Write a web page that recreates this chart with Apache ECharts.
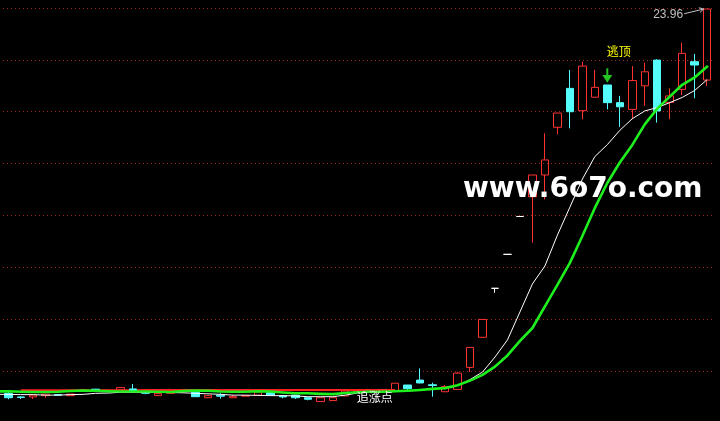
<!DOCTYPE html>
<html>
<head>
<meta charset="utf-8">
<script src="https://cdn.jsdelivr.net/npm/echarts@6/dist/echarts.min.js"></script>
<style>
html,body{margin:0;padding:0;background:#000;}
#c{width:720px;height:421px;}
</style>
</head>
<body>
<div id="c"></div>
<script>
// ---- data ----
const categories = ['1','2','3','4','5','6','7','8','9','10','11','12','13','14','15','16','17','18','19','20',
  '21','22','23','24','25','26','27','28','29','30','31','32','33','34','35','36','37','38','39','40',
  '41','42','43','44','45','46','47','48','49','50','51','52','53','54','55','56','57','58'];

const openP = [9.27,9.14,9.00,9.00,9.05,9.09,9.05,9.23,9.30,9.24,9.27,9.31,9.18,9.05,9.14,9.20,9.18,8.97,9.07,8.97,
  9.03,9.07,9.18,9.05,9.07,8.97,8.82,8.86,9.04,9.17,9.22,9.25,9.23,9.46,9.65,9.47,9.20,9.29,10.14,11.30,
  13.19,14.50,15.96,16.72,17.56,19.40,20.90,20.04,20.56,21.03,20.35,20.09,21.00,21.99,20.36,20.86,21.93,21.22];
const closeP = [9.19,8.97,8.98,9.07,9.11,9.07,9.11,9.29,9.22,9.26,9.36,9.23,9.14,9.13,9.18,9.22,9.01,9.05,9.03,9.01,
  9.05,9.19,9.07,9.00,8.97,8.91,8.97,8.97,9.23,9.21,9.19,9.29,9.53,9.32,9.54,9.44,9.40,9.92,10.91,11.99,
  13.19,14.50,15.96,17.56,18.14,19.95,20.00,21.76,20.94,20.35,20.19,21.20,21.54,20.03,20.61,22.25,21.80,23.96];
const lowP = [9.15,8.91,8.92,8.92,8.97,9.06,9.05,9.22,9.21,9.23,9.26,9.21,9.10,9.04,9.14,9.19,9.00,8.97,8.93,8.97,
  9.03,9.07,9.07,8.95,8.92,8.87,8.82,8.86,9.03,9.16,9.18,9.24,9.22,9.25,9.53,9.01,9.20,9.29,9.97,11.30,
  13.02,14.50,15.96,14.95,16.62,19.13,19.36,19.71,20.55,20.09,19.42,19.71,20.23,19.58,19.71,20.64,20.52,20.99];
const highP = [9.30,9.27,9.02,9.07,9.12,9.10,9.11,9.30,9.31,9.27,9.36,9.50,9.18,9.19,9.18,9.23,9.18,9.05,9.14,9.07,
  9.05,9.19,9.18,9.05,9.07,8.97,8.97,8.97,9.24,9.22,9.23,9.30,9.53,9.46,10.10,9.55,9.46,9.97,10.91,11.99,
  13.19,14.50,15.96,17.56,19.17,19.95,21.61,21.93,21.61,21.03,20.61,21.76,21.89,22.02,20.90,22.66,22.23,23.96];

const lineWhite = [9.10,9.10,9.09,9.09,9.07,9.07,9.09,9.10,9.14,9.15,9.18,9.18,9.18,9.18,9.17,9.16,9.14,9.12,9.10,9.07,
  9.07,9.06,9.05,9.05,9.04,9.01,9.01,9.01,9.07,9.15,9.19,9.20,9.21,9.23,9.27,9.31,9.34,9.44,9.67,9.96,
  10.54,11.20,12.28,13.36,14.05,15.24,16.32,17.40,18.27,18.73,19.28,19.73,20.03,20.16,20.35,20.55,20.82,21.24];
const lineGreen = [9.21,9.22,9.20,9.19,9.19,9.20,9.23,9.25,9.24,9.22,9.21,9.21,9.21,9.20,9.19,9.23,9.25,9.24,9.21,9.20,
  9.20,9.22,9.21,9.17,9.14,9.14,9.12,9.11,9.15,9.18,9.20,9.20,9.22,9.24,9.27,9.31,9.34,9.45,9.63,9.85,
  10.17,10.60,11.16,11.66,12.49,13.32,14.17,15.21,16.29,17.25,18.04,18.72,19.51,20.12,20.58,21.04,21.32,21.74];
const lineRed = [null,null,9.26,9.26,9.26,9.26,9.26,9.26,9.26,9.26,9.26,9.26,9.27,9.27,9.27,9.27,9.27,9.27,9.27,9.27,
  9.27,9.27,9.27,9.27,9.27,9.27,9.27,9.27,9.27,9.27,9.27,9.27,9.27,null,null,null,null,null,null,null,
  null,null,null,null,null,null,null,null,null,null,null,null,null,null,null,null,null,null];

const yMin = 8, yMax = 24, yStep = 2;
const lastPriceText = '23.96';
const lastIndex = 57;
const topSignalIndex = 49;
const topSignalText = '逃顶';
const chaseIndex = 29;
const chaseLevel = 8.99;
const chaseText = '追涨点';
const watermark = 'www.6o7o.com';

// ---- chart ----
const UP = '#ff3232', DOWN = '#54fcfc', DOJI = '#ffffff';
const candleData = openP.map((o, i) => {
  const item = { value: [o, closeP[i], lowP[i], highP[i]] };
  if (o === closeP[i]) item.itemStyle = { borderColor: DOJI, borderColor0: DOJI, color: DOJI, color0: DOJI };
  return item;
});

const chart = echarts.init(document.getElementById('c'), null, { renderer: 'canvas' });
chart.setOption({
  backgroundColor: '#000000',
  animation: false,
  grid: { left: -10.44, top: 8, width: 723.84, height: 414.88, containLabel: false, outerBoundsMode: 'none', show: false },
  xAxis: {
    type: 'category', data: categories, boundaryGap: true,
    axisLine: { show: false }, axisTick: { show: false }, axisLabel: { show: false }, splitLine: { show: false }
  },
  yAxis: {
    type: 'value', min: yMin, max: yMax, interval: yStep, scale: true,
    axisLine: { show: false }, axisTick: { show: false }, axisLabel: { show: false },
    splitLine: { show: true, lineStyle: { color: '#a02424', width: 1, type: [1, 3], dashOffset: 2.56 } }
  },
  series: [
    {
      type: 'line', data: lineRed, symbol: 'none', z: 1, connectNulls: false,
      lineStyle: { color: '#ff2020', width: 2 }
    },
    {
      type: 'candlestick', data: candleData, barWidth: 8, z: 2,
      itemStyle: { color: 'rgba(0,0,0,0)', color0: DOWN, borderColor: UP, borderColor0: DOWN, borderColorDoji: DOJI, borderWidth: 1 }
    },
    {
      type: 'line', data: lineWhite, symbol: 'none', z: 3,
      lineStyle: { color: '#ffffff', width: 1 }
    },
    {
      type: 'line', data: lineGreen, symbol: 'none', z: 4,
      lineStyle: { color: '#1ef01e', width: 2.6, cap: 'round', join: 'round' }
    }
  ]
});

function px(i, v) { return chart.convertToPixel({ gridIndex: 0 }, [categories[i], v]); }

const [tx, ty] = px(lastIndex, highP[lastIndex]);
const sx0 = tx - 23, sy0 = ty + 4.7, ex = tx - 3.5, ey = ty;
const ang = Math.atan2(ey - sy0, ex - sx0);
const ah = 5, aw = 0.5;
const head1 = [ex - ah * Math.cos(ang - aw), ey - ah * Math.sin(ang - aw)];
const head2 = [ex - ah * Math.cos(ang + aw), ey - ah * Math.sin(ang + aw)];

const [gx, gy] = px(topSignalIndex, highP[topSignalIndex]);
const [cx, cy] = px(chaseIndex, chaseLevel);

chart.setOption({
  graphic: [
    { type: 'text', x: 463, y: 190, z: 50, style: { text: watermark, fill: '#ffffff', font: 'bold 28px "DejaVu Sans"', align: 'left', verticalAlign: 'middle' } },
    { type: 'text', x: tx - 24, y: ty + 5.5, z: 60, style: { text: lastPriceText, fill: '#c0c0c0', font: '12px "Liberation Sans", Arial', align: 'right', verticalAlign: 'middle' } },
    { type: 'polyline', z: 60, shape: { points: [[sx0, sy0], [ex, ey]] }, style: { stroke: '#c0c0c0', lineWidth: 1 } },
    { type: 'polyline', z: 60, shape: { points: [head1, [ex, ey], head2] }, style: { stroke: '#c0c0c0', lineWidth: 1, fill: null } },
    { type: 'rect', z: 60, shape: { x: gx - 1, y: gy - 16.7, width: 2, height: 7 }, style: { fill: '#22c422' } },
    { type: 'polygon', z: 60, shape: { points: [[gx - 5, gy - 10], [gx + 5, gy - 10], [gx, gy - 2.3]] }, style: { fill: '#22c422' } },
    { type: 'text', x: gx - 0.5, y: gy - 34, z: 60, style: { text: topSignalText, fill: '#ffff00', font: '12px "Noto Sans CJK SC"', align: 'left', verticalAlign: 'middle' } },
    { type: 'text', x: cx - 1, y: cy, z: 60, style: { text: chaseText, fill: '#ffffff', font: '12px "Noto Sans CJK SC"', align: 'left', verticalAlign: 'middle' } }
  ]
});
</script>
</body>
</html>
